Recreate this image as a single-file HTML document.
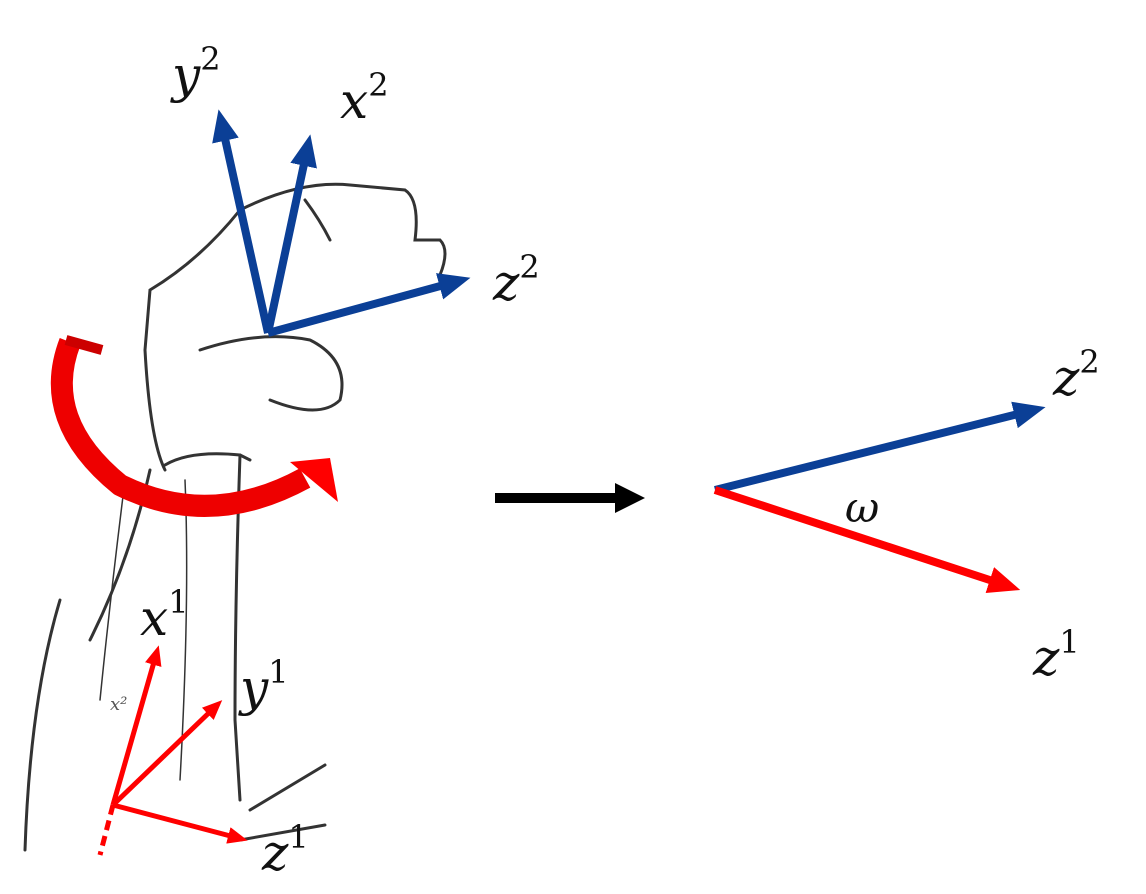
<!DOCTYPE html><html><head><style>body{margin:0;background:#fff}svg{display:block}text{font-family:"DejaVu Serif","Liberation Serif",serif;font-style:italic}</style></head><body>
<svg width="1146" height="894" viewBox="0 0 1146 894">
<defs>
<marker id="ab" markerWidth="4" markerHeight="4" refX="2" refY="2" orient="auto" markerUnits="strokeWidth"><path d="M0,0.3L4,2L0,3.7z" fill="#0b3f96"/></marker>
<marker id="ar" markerWidth="4" markerHeight="4" refX="2" refY="2" orient="auto" markerUnits="strokeWidth"><path d="M0,0.3L4,2L0,3.7z" fill="#f00"/></marker>
<marker id="ak" markerWidth="3" markerHeight="3" refX="1.5" refY="1.5" orient="auto" markerUnits="strokeWidth"><path d="M0,0L3,1.5L0,3z" fill="#000"/></marker>
</defs>
<g fill="none" stroke="#333" stroke-width="3" stroke-linecap="round">
<path d="M240,210 Q300,180 350,185 L405,190 Q420,200 415,240 L440,240 Q450,250 440,275"/>
<path d="M240,210 Q200,260 150,290 L145,350 Q150,440 165,470"/>
<path d="M165,465 Q190,450 240,455 L250,460"/>
<path d="M240,455 Q235,600 235,720 L240,800"/>
<path d="M150,470 Q130,560 90,640"/>
<path d="M60,600 Q30,700 25,850"/>
<path d="M200,350 Q260,330 310,340 Q350,360 340,400 Q320,420 270,400"/>
<path d="M305,200 Q320,220 330,240"/>
<path d="M250,810 L325,765"/>
<path d="M240,840 L325,825"/>
<path d="M125,480 Q110,600 100,700" stroke-width="1.5"/>
<path d="M185,480 Q190,600 180,780" stroke-width="1.5"/>
</g>
<text x="110" y="710" font-size="18" fill="#555">x²</text>
<path d="M70,342 Q40,420 120,485 Q210,530 305,478" fill="none" stroke="#e00" stroke-width="22"/>
<path d="M66,340 L102,350" stroke="#c00" stroke-width="10"/>
<path d="M290,462 L330,458 L338,502 Z" fill="#f00"/>
<g stroke="#0b3f96" stroke-width="8" fill="none">
<line x1="268" y1="333" x2="222" y2="125" marker-end="url(#ab)"/>
<line x1="268" y1="333" x2="307" y2="150" marker-end="url(#ab)"/>
<line x1="268" y1="333" x2="455" y2="282" marker-end="url(#ab)"/>
<line x1="715" y1="490" x2="1030" y2="411" marker-end="url(#ab)"/>
</g>
<g stroke="#f00" stroke-width="5" fill="none">
<line x1="113" y1="805" x2="156" y2="655" marker-end="url(#ar)"/>
<line x1="113" y1="805" x2="215" y2="707" marker-end="url(#ar)"/>
<line x1="113" y1="805" x2="238" y2="838" marker-end="url(#ar)"/>
<line x1="113" y1="805" x2="100" y2="855" stroke-dasharray="10,6"/>
<line x1="715" y1="490" x2="1005" y2="585" stroke-width="8" marker-end="url(#ar)"/>
</g>
<line x1="495" y1="498" x2="630" y2="498" stroke="#000" stroke-width="10" marker-end="url(#ak)"/>
<g font-size="50" fill="#111">
<text x="172" y="92">y<tspan font-size="32" dy="-22" font-style="normal">2</tspan></text>
<text x="340" y="118">x<tspan font-size="32" dy="-22" font-style="normal">2</tspan></text>
<text x="493" y="300">z<tspan font-size="32" dy="-22" font-style="normal">2</tspan></text>
<text x="1053" y="395">z<tspan font-size="32" dy="-22" font-style="normal">2</tspan></text>
<text x="1033" y="675">z<tspan font-size="32" dy="-22" font-style="normal">1</tspan></text>
<text x="140" y="635">x<tspan font-size="32" dy="-22" font-style="normal">1</tspan></text>
<text x="240" y="705">y<tspan font-size="32" dy="-22" font-style="normal">1</tspan></text>
<text x="262" y="870">z<tspan font-size="32" dy="-22" font-style="normal">1</tspan></text>
<text x="845" y="522" font-style="normal" font-size="42">ω</text>
</g>
</svg></body></html>
